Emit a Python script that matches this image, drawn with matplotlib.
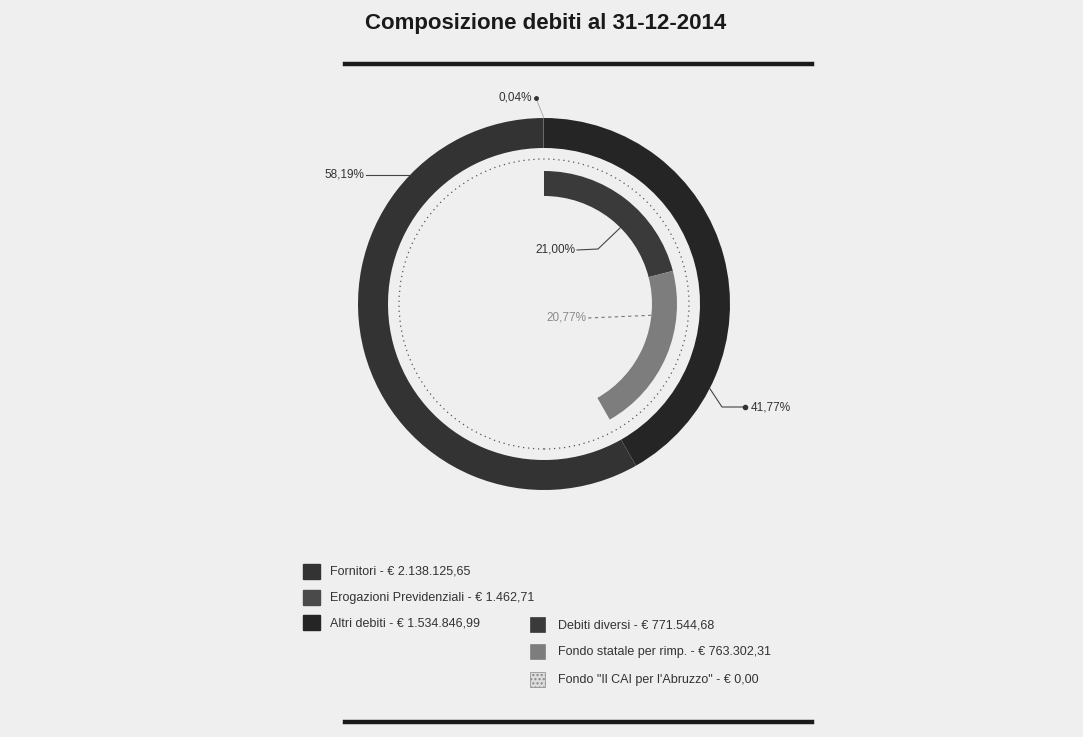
import matplotlib.pyplot as plt
import numpy as np
from matplotlib.lines import Line2D
from matplotlib.patches import Circle, Rectangle

# data
title = 'Composizione debiti al 31-12-2014'

outer_labels = ['Altri debiti', 'Fornitori', 'Erogazioni Previdenziali']
outer_values = [1534846.99, 2138125.65, 1462.71]
outer_colors = ['#252525', '#333333', '#4a4a4a']

inner_labels = ['Debiti diversi', 'Fondo statale per rimp.', 'Fondo "Il CAI per l\'Abruzzo"']
inner_values = [771544.68, 763302.31, 0.0]
inner_colors = ['#3a3a3a', '#7d7d7d', '#dcdcdc']

W, H = 1083, 737
cx, cy, s = 544, 304, 186.0   # ring centre (px) and px per unit radius


def to_data(x, y):
    return (x - cx) / s, (cy - y) / s


def ring_point(angle, r):
    a = np.deg2rad(angle)
    return r * np.cos(a), r * np.sin(a)


def euro(v):
    txt = f'{v:,.2f}'
    return txt.replace(',', 'X').replace('.', ',').replace('X', '.')


def pct(v, total):
    return f'{v / total * 100:.2f}%'.replace('.', ',')


plt.rcParams['font.family'] = ['Liberation Sans', 'DejaVu Sans']

fig = plt.figure(figsize=(W / 100, H / 100), dpi=100, facecolor='#efefef')
ax = fig.add_axes([0, 0, 1, 1])
ax.set_facecolor('#efefef')

total = sum(outer_values)

# outer ring
ax.pie(outer_values, radius=1.0, startangle=90, counterclock=False,
       colors=outer_colors, wedgeprops=dict(width=30 / s, edgecolor='none'))

# inner ring, same scale as the outer one (rest left empty)
rest = total - sum(inner_values)
ax.pie(inner_values + [rest], radius=133 / s, startangle=90, counterclock=False,
       colors=inner_colors + ['none'], wedgeprops=dict(width=25 / s, edgecolor='none'))

# dotted separator circle
ax.add_patch(Circle((0, 0), 145 / s, fill=False, ls=(0, (1, 3)), lw=0.9, color='#555555'))

ax.set_xlim(-cx / s, (W - cx) / s)
ax.set_ylim(-(H - cy) / s, cy / s)
ax.set_aspect('auto')
ax.axis('off')

lab_kw = dict(fontsize=8.5, color='#333333', va='center')

# Fornitori
p0 = ring_point(136, 1.0)
p1 = (to_data(366, 0)[0], p0[1])
ax.plot([p0[0], p1[0]], [p0[1], p1[1]], color='#444444', lw=0.8)
ax.text(p1[0] - 0.01, p1[1], pct(outer_values[1], total), ha='right', **lab_kw)

# Erogazioni
p0 = ring_point(90.05, 1.0)
p1 = to_data(536, 98)
ax.plot([p0[0], p1[0]], [p0[1], p1[1]], color='#999999', lw=0.5)
ax.plot(*p1, 'o', ms=2.5, color='#333333')
ax.text(p1[0] - 0.02, p1[1], pct(outer_values[2], total), ha='right', **lab_kw)

# Altri debiti
p0 = ring_point(-27, 1.0)
p1 = to_data(722, 407)
p2 = to_data(745, 407)
ax.plot([p0[0], p1[0], p2[0]], [p0[1], p1[1], p2[1]], color='#444444', lw=0.8)
ax.plot(*p2, 'o', ms=3, color='#333333')
ax.text(p2[0] + 0.03, p2[1], pct(outer_values[0], total), ha='left', **lab_kw)

# Debiti diversi
p0 = ring_point(45, 108 / s)
p1 = to_data(598, 249)
p2 = to_data(577, 250)
ax.plot([p0[0], p1[0], p2[0]], [p0[1], p1[1], p2[1]], color='#444444', lw=0.8)
ax.text(p2[0] - 0.01, p2[1], pct(inner_values[0], total), ha='right', **lab_kw)

# Fondo statale
p0 = ring_point(-6, 108 / s)
p1 = to_data(588, 318)
ax.plot([p0[0], p1[0]], [p0[1], p1[1]], color='#777777', lw=0.8, ls=(0, (3, 3)))
ax.text(p1[0] - 0.01, p1[1], pct(inner_values[1], total), ha='right',
        fontsize=8.5, color='#8a8a8a', va='center')

# title and rules
fig.text(546 / W, 1 - 24 / H, title, ha='center', va='center', fontsize=16,
         fontweight='bold', color='#1a1a1a')
for y in (64, 722):
    fig.add_artist(Line2D([345 / W, 812 / W], [1 - y / H] * 2, lw=3.2, color='#1a1a1a'))

# legend
col1 = [(303, 572), (303, 598), (303, 623)]
col2 = [(530, 625), (530, 652), (530, 680)]
leg_order = [1, 2, 0]
for (x, y), i in zip(col1, leg_order):
    fig.add_artist(Rectangle((x / W, 1 - (y + 7) / H), 17 / W, 15 / H,
                             transform=fig.transFigure, color=outer_colors[i]))
    fig.text((x + 27) / W, 1 - y / H, f'{outer_labels[i]} - € {euro(outer_values[i])}',
             fontsize=9, color='#333333', va='center')
for (x, y), i in zip(col2, range(3)):
    rect = Rectangle((x / W, 1 - (y + 7) / H), 15 / W, 15 / H, transform=fig.transFigure,
                     facecolor=inner_colors[i], edgecolor='#888888' if i == 2 else inner_colors[i],
                     hatch='....' if i == 2 else None, lw=0.5)
    fig.add_artist(rect)
    fig.text((x + 28) / W, 1 - y / H, f'{inner_labels[i]} - € {euro(inner_values[i])}',
             fontsize=9, color='#333333', va='center')

fig.savefig('out.png', dpi=100, facecolor=fig.get_facecolor())
